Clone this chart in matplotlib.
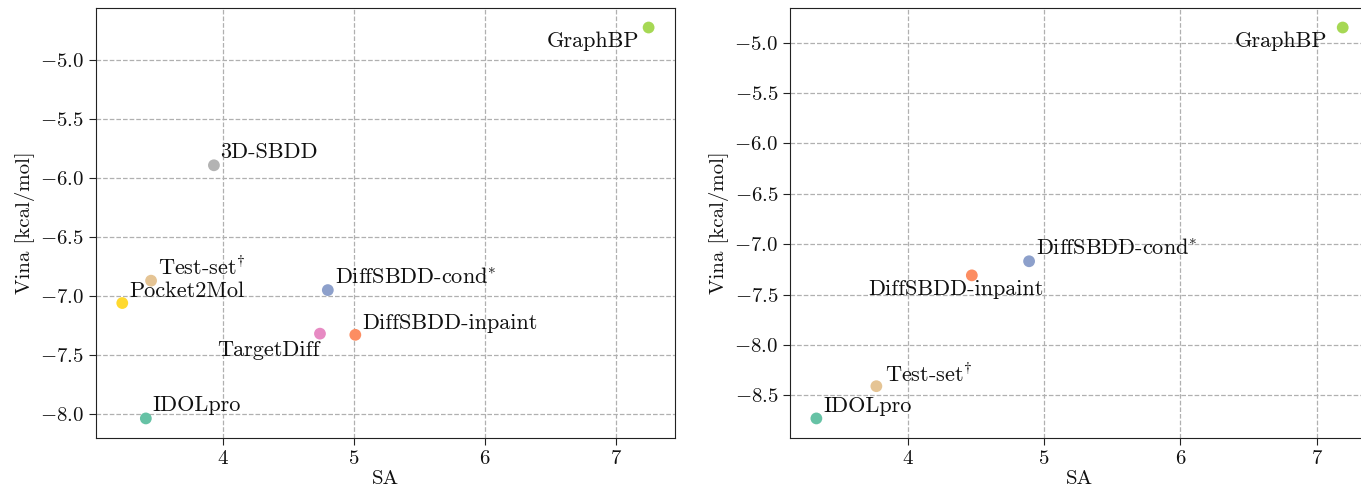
import matplotlib
matplotlib.use("Agg")
import matplotlib.pyplot as plt

plt.rcParams['font.family'] = 'serif'
plt.rcParams['font.serif'] = ['cmr10']
plt.rcParams['mathtext.fontset'] = 'cm'
plt.rcParams['axes.formatter.use_mathtext'] = True
plt.rcParams['font.size'] = 15

# Panel 1
names1 = ['IDOLpro', 'DiffSBDD-inpaint', 'DiffSBDD-cond$^{*}$', 'TargetDiff', 'GraphBP',
          'Pocket2Mol', 'Test-set$^{\\dagger}$', '3D-SBDD']
sa1 = [3.41, 5.01, 4.80, 4.74, 7.25, 3.23, 3.45, 3.93]
vina1 = [-8.04, -7.33, -6.95, -7.32, -4.72, -7.06, -6.87, -5.89]
colors1 = ['#66c2a5', '#fc8d62', '#8da0cb', '#e78ac3', '#a6d854', '#ffd92f', '#e5c494', '#b3b3b3']

# Panel 2
names2 = ['IDOLpro', 'DiffSBDD-inpaint', 'DiffSBDD-cond$^{*}$', 'GraphBP', 'Test-set$^{\\dagger}$']
sa2 = [3.33, 4.47, 4.89, 7.19, 3.77]
vina2 = [-8.73, -7.31, -7.17, -4.85, -8.41]
colors2 = ['#66c2a5', '#fc8d62', '#8da0cb', '#a6d854', '#e5c494']

# label placement (offset in pixels, horizontal alignment)
offs1 = [(7, 7, 'left'), (7, 6, 'left'), (7, 6, 'left'), (0, -22, 'right'), (-9, -19, 'right'),
         (7, 6, 'left'), (7, 6, 'left'), (6, 7, 'left')]
offs2 = [(7, 6, 'left'), (-16, -20, 'center'), (7, 6, 'left'), (-15, -19, 'right'), (9, 4, 'left')]

fig = plt.figure(figsize=(13.61, 4.95), dpi=100)
ax1 = fig.add_axes([0.0705, 0.1152, 0.4254, 0.8687])
ax2 = fig.add_axes([0.5805, 0.1152, 0.4254, 0.8687])


def draw(ax, names, xs, ys, cols, offs):
    ax.scatter(xs, ys, c=cols, s=72, zorder=3, edgecolors='none')
    for n, x, y, o in zip(names, xs, ys, offs):
        ax.annotate(n, (x, y), xytext=(o[0], o[1]), textcoords='offset pixels',
                    ha=o[2], va='baseline', fontsize=16, color='#111111')
    ax.grid(True, linestyle='--', color='#b0b0b0', linewidth=0.9)
    ax.set_axisbelow(True)
    ax.set_xlabel('SA', labelpad=2, color='#111111')
    ax.set_ylabel('Vina [kcal/mol]', color='#111111')
    ax.set_xticks([4, 5, 6, 7])
    ax.tick_params(colors='#222222', labelcolor='#111111', length=5)
    for s in ax.spines.values():
        s.set_color('#222222')


draw(ax1, names1, sa1, vina1, colors1, offs1)
ax1.set_yticks([-8.0, -7.5, -7.0, -6.5, -6.0, -5.5, -5.0])
draw(ax2, names2, sa2, vina2, colors2, offs2)
ax2.set_yticks([-8.5, -8.0, -7.5, -7.0, -6.5, -6.0, -5.5, -5.0])

fig.savefig('out.png', dpi=100)
